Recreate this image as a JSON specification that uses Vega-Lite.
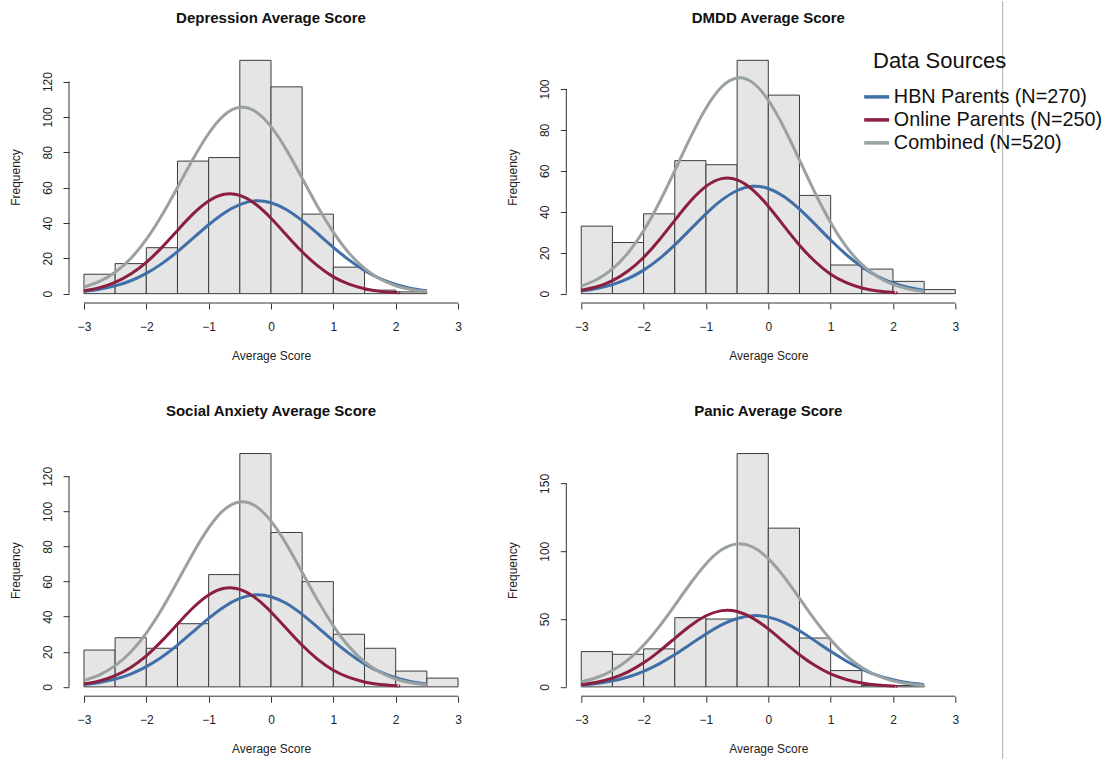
{
  "$schema": "https://vega.github.io/schema/vega-lite/v6.json",
  "background": "white",
  "padding": {"left": 9, "top": 0, "right": 0, "bottom": 0},
  "config": {
    "font": "Liberation Sans",
    "view": {"stroke": null},
    "axis": {"grid": false, "domain": false, "tickColor": "#333333", "tickSize": 6, "labelFontSize": 12, "labelColor": "#222222", "titleFontSize": 12, "titleFontWeight": "normal", "titleColor": "#222222", "labelFlush": false, "labelOverlap": false, "format": "d"},
    "axisX": {"labelPadding": 12, "titlePadding": 18, "labelAngle": 0},
    "axisY": {"labelAngle": -90, "labelAlign": "center", "labelBaseline": "bottom", "labelPadding": 9, "titlePadding": 19},
    "title": {"fontSize": 15, "fontWeight": "bold", "frame": "group", "anchor": "middle", "baseline": "alphabetic", "offset": 25, "color": "#111111"},
    "legend": {"orient": "none", "legendX": 804, "legendY": 0, "padding": 0,
      "titleFontSize": 22, "titleFontWeight": "normal", "titleColor": "#111111", "titlePadding": 14,
      "labelFontSize": 19.8, "labelColor": "#111111", "labelLimit": 400, "labelOffset": 7.3,
      "symbolSize": 156, "symbolStrokeWidth": 3.5, "symbolOffset": -6.25, "rowPadding": 2.0}
  },
  "datasets": {
    "bars": [
      {"panel": "Depression", "x0": -3, "x1": -2.5, "count": 11},
      {"panel": "Depression", "x0": -2.5, "x1": -2, "count": 17},
      {"panel": "Depression", "x0": -2, "x1": -1.5, "count": 26},
      {"panel": "Depression", "x0": -1.5, "x1": -1, "count": 75},
      {"panel": "Depression", "x0": -1, "x1": -0.5, "count": 77},
      {"panel": "Depression", "x0": -0.5, "x1": 0, "count": 132},
      {"panel": "Depression", "x0": 0, "x1": 0.5, "count": 117},
      {"panel": "Depression", "x0": 0.5, "x1": 1, "count": 45},
      {"panel": "Depression", "x0": 1, "x1": 1.5, "count": 15},
      {"panel": "Depression", "x0": 1.5, "x1": 2, "count": 2},
      {"panel": "Depression", "x0": 2, "x1": 2.5, "count": 1},
      {"panel": "DMDD", "x0": -3, "x1": -2.5, "count": 33},
      {"panel": "DMDD", "x0": -2.5, "x1": -2, "count": 25},
      {"panel": "DMDD", "x0": -2, "x1": -1.5, "count": 39},
      {"panel": "DMDD", "x0": -1.5, "x1": -1, "count": 65},
      {"panel": "DMDD", "x0": -1, "x1": -0.5, "count": 63},
      {"panel": "DMDD", "x0": -0.5, "x1": 0, "count": 114},
      {"panel": "DMDD", "x0": 0, "x1": 0.5, "count": 97},
      {"panel": "DMDD", "x0": 0.5, "x1": 1, "count": 48},
      {"panel": "DMDD", "x0": 1, "x1": 1.5, "count": 14},
      {"panel": "DMDD", "x0": 1.5, "x1": 2, "count": 12},
      {"panel": "DMDD", "x0": 2, "x1": 2.5, "count": 6},
      {"panel": "DMDD", "x0": 2.5, "x1": 3, "count": 2},
      {"panel": "Social", "x0": -3, "x1": -2.5, "count": 21},
      {"panel": "Social", "x0": -2.5, "x1": -2, "count": 28},
      {"panel": "Social", "x0": -2, "x1": -1.5, "count": 22},
      {"panel": "Social", "x0": -1.5, "x1": -1, "count": 36},
      {"panel": "Social", "x0": -1, "x1": -0.5, "count": 64},
      {"panel": "Social", "x0": -0.5, "x1": 0, "count": 133},
      {"panel": "Social", "x0": 0, "x1": 0.5, "count": 88},
      {"panel": "Social", "x0": 0.5, "x1": 1, "count": 60},
      {"panel": "Social", "x0": 1, "x1": 1.5, "count": 30},
      {"panel": "Social", "x0": 1.5, "x1": 2, "count": 22},
      {"panel": "Social", "x0": 2, "x1": 2.5, "count": 9},
      {"panel": "Social", "x0": 2.5, "x1": 3, "count": 5},
      {"panel": "Panic", "x0": -3, "x1": -2.5, "count": 26},
      {"panel": "Panic", "x0": -2.5, "x1": -2, "count": 24},
      {"panel": "Panic", "x0": -2, "x1": -1.5, "count": 28},
      {"panel": "Panic", "x0": -1.5, "x1": -1, "count": 51},
      {"panel": "Panic", "x0": -1, "x1": -0.5, "count": 50},
      {"panel": "Panic", "x0": -0.5, "x1": 0, "count": 172},
      {"panel": "Panic", "x0": 0, "x1": 0.5, "count": 117},
      {"panel": "Panic", "x0": 0.5, "x1": 1, "count": 36},
      {"panel": "Panic", "x0": 1, "x1": 1.5, "count": 12},
      {"panel": "Panic", "x0": 1.5, "x1": 2, "count": 1},
      {"panel": "Panic", "x0": 2, "x1": 2.5, "count": 1}
    ],
    "curves": [
      {"series": "HBN Parents (N=270)", "x": -3, "y": 1.3},
      {"series": "HBN Parents (N=270)", "x": -2.75, "y": 2.5},
      {"series": "HBN Parents (N=270)", "x": -2.5, "y": 4.4},
      {"series": "HBN Parents (N=270)", "x": -2.25, "y": 7.3},
      {"series": "HBN Parents (N=270)", "x": -2, "y": 11.5},
      {"series": "HBN Parents (N=270)", "x": -1.75, "y": 17.0},
      {"series": "HBN Parents (N=270)", "x": -1.5, "y": 23.8},
      {"series": "HBN Parents (N=270)", "x": -1.25, "y": 31.4},
      {"series": "HBN Parents (N=270)", "x": -1, "y": 39.0},
      {"series": "HBN Parents (N=270)", "x": -0.75, "y": 45.7},
      {"series": "HBN Parents (N=270)", "x": -0.5, "y": 50.4},
      {"series": "HBN Parents (N=270)", "x": -0.25, "y": 52.5},
      {"series": "HBN Parents (N=270)", "x": 0, "y": 51.4},
      {"series": "HBN Parents (N=270)", "x": 0.25, "y": 47.5},
      {"series": "HBN Parents (N=270)", "x": 0.5, "y": 41.3},
      {"series": "HBN Parents (N=270)", "x": 0.75, "y": 33.9},
      {"series": "HBN Parents (N=270)", "x": 1, "y": 26.2},
      {"series": "HBN Parents (N=270)", "x": 1.25, "y": 19.1},
      {"series": "HBN Parents (N=270)", "x": 1.5, "y": 13.1},
      {"series": "HBN Parents (N=270)", "x": 1.75, "y": 8.5},
      {"series": "HBN Parents (N=270)", "x": 2, "y": 5.2},
      {"series": "HBN Parents (N=270)", "x": 2.25, "y": 3.0},
      {"series": "HBN Parents (N=270)", "x": 2.5, "y": 1.6},
      {"series": "Online Parents (N=250)", "x": -3, "y": 1.7},
      {"series": "Online Parents (N=250)", "x": -2.75, "y": 3.4},
      {"series": "Online Parents (N=250)", "x": -2.5, "y": 6.4},
      {"series": "Online Parents (N=250)", "x": -2.25, "y": 11.1},
      {"series": "Online Parents (N=250)", "x": -2, "y": 17.7},
      {"series": "Online Parents (N=250)", "x": -1.75, "y": 26.2},
      {"series": "Online Parents (N=250)", "x": -1.5, "y": 35.8},
      {"series": "Online Parents (N=250)", "x": -1.25, "y": 45.1},
      {"series": "Online Parents (N=250)", "x": -1, "y": 52.4},
      {"series": "Online Parents (N=250)", "x": -0.75, "y": 56.2},
      {"series": "Online Parents (N=250)", "x": -0.5, "y": 55.6},
      {"series": "Online Parents (N=250)", "x": -0.25, "y": 50.7},
      {"series": "Online Parents (N=250)", "x": 0, "y": 42.7},
      {"series": "Online Parents (N=250)", "x": 0.25, "y": 33.1},
      {"series": "Online Parents (N=250)", "x": 0.5, "y": 23.7},
      {"series": "Online Parents (N=250)", "x": 0.75, "y": 15.7},
      {"series": "Online Parents (N=250)", "x": 1, "y": 9.5},
      {"series": "Online Parents (N=250)", "x": 1.25, "y": 5.4},
      {"series": "Online Parents (N=250)", "x": 1.5, "y": 2.8},
      {"series": "Online Parents (N=250)", "x": 1.75, "y": 1.3},
      {"series": "Online Parents (N=250)", "x": 2, "y": 0.6},
      {"series": "Online Parents (N=250)", "x": 2.05, "y": 0.5},
      {"series": "Combined (N=520)", "x": -3, "y": 3.7},
      {"series": "Combined (N=520)", "x": -2.75, "y": 6.9},
      {"series": "Combined (N=520)", "x": -2.5, "y": 12.1},
      {"series": "Combined (N=520)", "x": -2.25, "y": 19.9},
      {"series": "Combined (N=520)", "x": -2, "y": 30.7},
      {"series": "Combined (N=520)", "x": -1.75, "y": 44.4},
      {"series": "Combined (N=520)", "x": -1.5, "y": 60.1},
      {"series": "Combined (N=520)", "x": -1.25, "y": 76.2},
      {"series": "Combined (N=520)", "x": -1, "y": 90.6},
      {"series": "Combined (N=520)", "x": -0.75, "y": 101.0},
      {"series": "Combined (N=520)", "x": -0.5, "y": 105.4},
      {"series": "Combined (N=520)", "x": -0.25, "y": 103.1},
      {"series": "Combined (N=520)", "x": 0, "y": 94.5},
      {"series": "Combined (N=520)", "x": 0.25, "y": 81.2},
      {"series": "Combined (N=520)", "x": 0.5, "y": 65.3},
      {"series": "Combined (N=520)", "x": 0.75, "y": 49.2},
      {"series": "Combined (N=520)", "x": 1, "y": 34.8},
      {"series": "Combined (N=520)", "x": 1.25, "y": 23.0},
      {"series": "Combined (N=520)", "x": 1.5, "y": 14.3},
      {"series": "Combined (N=520)", "x": 1.75, "y": 8.3},
      {"series": "Combined (N=520)", "x": 2, "y": 4.5},
      {"series": "Combined (N=520)", "x": 2.25, "y": 2.3},
      {"series": "Combined (N=520)", "x": 2.5, "y": 1.1}
    ]
  },
  "concat": [
    {
      "title": "Depression Average Score",
      "width": 404, "height": 252,
      "layer": [
        {"data": {"name": "bars"}, "transform": [{"filter": "datum.panel === 'Depression'"}],
         "mark": {"type": "rect", "fill": "#e5e5e5", "stroke": "#3c3c3c", "strokeWidth": 1},
         "encoding": {
           "x": {"field": "x0", "type": "quantitative", "scale": {"domain": [-3.24, 3.24], "nice": false, "zero": false}, "axis": {"values": [-3, -2, -1, 0, 1, 2, 3], "title": "Average Score"}},
           "x2": {"field": "x1"},
           "y": {"field": "count", "type": "quantitative", "scale": {"domain": [-5.28, 137.28], "nice": false, "zero": false}, "axis": {"values": [0, 20, 40, 60, 80, 100, 120], "title": "Frequency"}},
           "y2": {"datum": 0}
         }},
        {"data": {"name": "curves"},
         "mark": {"type": "line", "strokeWidth": 3, "interpolate": "natural"},
         "encoding": {
           "x": {"field": "x", "type": "quantitative"},
           "y": {"field": "y", "type": "quantitative"},
           "stroke": {"field": "series", "type": "nominal", "scale": {"domain": ["HBN Parents (N=270)", "Online Parents (N=250)", "Combined (N=520)"], "range": ["#3f6fa6", "#8c1e3e", "#9aa1a2"]},
             "legend": {"title": "Data Sources", "symbolType": "M-2,0L2,0",
               "encoding": {"symbols": {"stroke": {"signal": "datum.value === 'HBN Parents (N=270)' ? '#1c5e9c' : datum.value === 'Online Parents (N=250)' ? '#c41a1a' : '#7f7f7f'"}}}}}
         }},
        {"data": {"values": [{}]}, "mark": {"type": "rule", "color": "#333333", "strokeWidth": 1},
         "encoding": {"x": {"datum": -3}, "x2": {"datum": 3}, "y": {"datum": -5.28}}},
        {"data": {"values": [{}]}, "mark": {"type": "rule", "color": "#333333", "strokeWidth": 1},
         "encoding": {"x": {"datum": -3.24}, "y": {"datum": 0}, "y2": {"datum": 120}}}
      ]
    },
    {
      "title": "DMDD Average Score",
      "width": 404, "height": 252,
      "layer": [
        {"data": {"name": "bars"}, "transform": [{"filter": "datum.panel === 'DMDD'"}],
         "mark": {"type": "rect", "fill": "#e5e5e5", "stroke": "#3c3c3c", "strokeWidth": 1},
         "encoding": {
           "x": {"field": "x0", "type": "quantitative", "scale": {"domain": [-3.24, 3.24], "nice": false, "zero": false}, "axis": {"values": [-3, -2, -1, 0, 1, 2, 3], "title": "Average Score"}},
           "x2": {"field": "x1"},
           "y": {"field": "count", "type": "quantitative", "scale": {"domain": [-4.56, 118.56], "nice": false, "zero": false}, "axis": {"values": [0, 20, 40, 60, 80, 100], "title": "Frequency"}},
           "y2": {"datum": 0}
         }},
        {"data": {"name": "curves"},
         "mark": {"type": "line", "strokeWidth": 3, "interpolate": "natural"},
         "encoding": {
           "x": {"field": "x", "type": "quantitative"},
           "y": {"field": "y", "type": "quantitative"},
           "stroke": {"field": "series", "type": "nominal"}
         }},
        {"data": {"values": [{}]}, "mark": {"type": "rule", "color": "#333333", "strokeWidth": 1},
         "encoding": {"x": {"datum": -3}, "x2": {"datum": 3}, "y": {"datum": -4.56}}},
        {"data": {"values": [{}]}, "mark": {"type": "rule", "color": "#333333", "strokeWidth": 1},
         "encoding": {"x": {"datum": -3.24}, "y": {"datum": 0}, "y2": {"datum": 100}}}
      ]
    },
    {
      "width": 10, "height": 252,
      "data": {"values": [{}]},
      "mark": {"type": "rule", "color": "#bdbdbd", "strokeWidth": 1.3},
      "encoding": {
        "x": {"datum": -61, "scale": {"domain": [0, 10], "nice": false, "zero": false}, "axis": null},
        "y": {"datum": 302.1, "scale": {"domain": [0, 252], "nice": false}, "axis": null},
        "y2": {"datum": -456.9}
      }
    },
    {
      "title": "Social Anxiety Average Score",
      "width": 404, "height": 252,
      "layer": [
        {"data": {"name": "bars"}, "transform": [{"filter": "datum.panel === 'Social'"}],
         "mark": {"type": "rect", "fill": "#e5e5e5", "stroke": "#3c3c3c", "strokeWidth": 1},
         "encoding": {
           "x": {"field": "x0", "type": "quantitative", "scale": {"domain": [-3.24, 3.24], "nice": false, "zero": false}, "axis": {"values": [-3, -2, -1, 0, 1, 2, 3], "title": "Average Score"}},
           "x2": {"field": "x1"},
           "y": {"field": "count", "type": "quantitative", "scale": {"domain": [-5.32, 138.32], "nice": false, "zero": false}, "axis": {"values": [0, 20, 40, 60, 80, 100, 120], "title": "Frequency"}},
           "y2": {"datum": 0}
         }},
        {"data": {"name": "curves"},
         "mark": {"type": "line", "strokeWidth": 3, "interpolate": "natural"},
         "encoding": {
           "x": {"field": "x", "type": "quantitative"},
           "y": {"field": "y", "type": "quantitative"},
           "stroke": {"field": "series", "type": "nominal"}
         }},
        {"data": {"values": [{}]}, "mark": {"type": "rule", "color": "#333333", "strokeWidth": 1},
         "encoding": {"x": {"datum": -3}, "x2": {"datum": 3}, "y": {"datum": -5.32}}},
        {"data": {"values": [{}]}, "mark": {"type": "rule", "color": "#333333", "strokeWidth": 1},
         "encoding": {"x": {"datum": -3.24}, "y": {"datum": 0}, "y2": {"datum": 120}}}
      ]
    },
    {
      "title": "Panic Average Score",
      "width": 404, "height": 252,
      "layer": [
        {"data": {"name": "bars"}, "transform": [{"filter": "datum.panel === 'Panic'"}],
         "mark": {"type": "rect", "fill": "#e5e5e5", "stroke": "#3c3c3c", "strokeWidth": 1},
         "encoding": {
           "x": {"field": "x0", "type": "quantitative", "scale": {"domain": [-3.24, 3.24], "nice": false, "zero": false}, "axis": {"values": [-3, -2, -1, 0, 1, 2, 3], "title": "Average Score"}},
           "x2": {"field": "x1"},
           "y": {"field": "count", "type": "quantitative", "scale": {"domain": [-6.88, 178.88], "nice": false, "zero": false}, "axis": {"values": [0, 50, 100, 150], "title": "Frequency"}},
           "y2": {"datum": 0}
         }},
        {"data": {"name": "curves"},
         "mark": {"type": "line", "strokeWidth": 3, "interpolate": "natural"},
         "encoding": {
           "x": {"field": "x", "type": "quantitative"},
           "y": {"field": "y", "type": "quantitative"},
           "stroke": {"field": "series", "type": "nominal"}
         }},
        {"data": {"values": [{}]}, "mark": {"type": "rule", "color": "#333333", "strokeWidth": 1},
         "encoding": {"x": {"datum": -3}, "x2": {"datum": 3}, "y": {"datum": -6.88}}},
        {"data": {"values": [{}]}, "mark": {"type": "rule", "color": "#333333", "strokeWidth": 1},
         "encoding": {"x": {"datum": -3.24}, "y": {"datum": 0}, "y2": {"datum": 150}}}
      ]
    }
  ],
  "columns": 3,
  "spacing": {"row": 141.2, "column": 93.3},
  "bounds": "flush"
}
